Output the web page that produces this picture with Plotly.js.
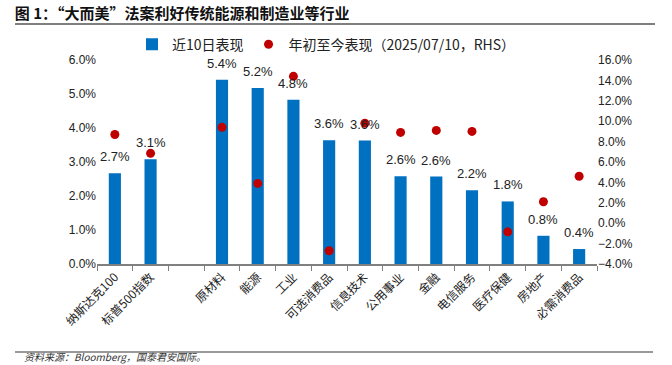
<!DOCTYPE html>
<html><head><meta charset="utf-8">
<script src="https://cdn.plot.ly/plotly-3.0.1.min.js"></script>
<style>html,body{margin:0;padding:0;background:#fff}#c{width:672px;height:365px}</style>
</head><body><div id="c"></div>
<script>
var categories = ["纳斯达克100","标普500指数"," ","原材料","能源","工业","可选消费品","信息技术","公用事业","金融","电信服务","医疗保健","房地产","必需消费品"];
var tenDay = [2.67, 3.08, null, 5.42, 5.18, 4.83, 3.64, 3.63, 2.58, 2.57, 2.17, 1.84, 0.83, 0.44];
var tenDayLabels = ["2.7%","3.1%","","5.4%","5.2%","4.8%","3.6%","3.6%","2.6%","2.6%","2.2%","1.8%","0.8%","0.4%"];
var ytd = [8.7, 6.85, null, 9.4, 3.9, 14.4, -2.7, 9.8, 8.9, 9.1, 9.0, -0.85, 2.1, 4.6];
var leftTicks = [0,1,2,3,4,5,6];
var rightTicks = [-4,-2,0,2,4,6,8,10,12,14,16];

var fontCJK = "Noto Sans CJK SC, Arial, sans-serif";
var traces = [
  {type:"bar", x:categories, y:tenDay, name:"近10日表现", marker:{color:"#0070C0"},
   width:0.34, hoverinfo:"none"},
  {type:"scatter", mode:"markers", x:categories, y:ytd, yaxis:"y2", name:"年初至今表现（2025/07/10，RHS）",
   marker:{color:"#C00000", size:9}, hoverinfo:"none", cliponaxis:false}
];
var labelAnns = [];
for (var i = 0; i < categories.length; i++) {
  if (tenDay[i] === null) continue;
  labelAnns.push({x:categories[i], y:tenDay[i], xref:"x", yref:"y", text:tenDayLabels[i], showarrow:false,
    yanchor:"bottom", yshift:7, font:{size:13, color:"#222", family:"Arial, sans-serif"}});
}
var layout = {
  width:672, height:365, margin:{l:97, r:75, t:60, b:101},
  paper_bgcolor:"#fff", plot_bgcolor:"#fff",
  font:{family:fontCJK, size:12, color:"#222"},
  showlegend:true,
  legend:{orientation:"h", x:0.07, y:1.075, xanchor:"left", yanchor:"middle", itemwidth:30,
    font:{size:14, family:fontCJK}, bgcolor:"rgba(0,0,0,0)", tracegroupgap:0},
  title:{text:"<b>图 1：“大而美”法案利好传统能源和制造业等行业</b>", x:0.022, xref:"container", xanchor:"left", y:0.962, yref:"container", yanchor:"middle",
    font:{size:15, family:fontCJK, color:"#111"}},
  xaxis:{type:"category", categoryorder:"array", categoryarray:categories, range:[-0.5,13.5],
    tickangle:-45, tickfont:{size:12, family:fontCJK, color:"#222"},
    showline:true, linecolor:"#808080", linewidth:1.5, ticks:"outside", tickson:"boundaries",
    ticklen:5, tickcolor:"#808080", showgrid:false, zeroline:false},
  yaxis:{range:[0,6], tickvals:leftTicks, ticktext:leftTicks.map(function(v){return v.toFixed(1)+"%";}),
    showgrid:false, zeroline:false, showline:false, ticks:"", tickfont:{size:12, family:"Arial, sans-serif", color:"#222"}},
  yaxis2:{range:[-4,16], overlaying:"y", side:"right", tickvals:rightTicks,
    ticktext:rightTicks.map(function(v){return (v<0?"−":"")+Math.abs(v).toFixed(1)+"%";}),
    showgrid:false, zeroline:false, showline:false, ticks:"", tickfont:{size:12, family:"Arial, sans-serif", color:"#222"}},
  shapes:[
    {type:"line", xref:"paper", yref:"paper", x0:-0.164, x1:1.116, y0:1.176, y1:1.176, line:{color:"#555", width:1.5}},
    {type:"line", xref:"paper", yref:"paper", x0:-0.164, x1:1.112, y0:-0.431, y1:-0.431, line:{color:"#777", width:1.5}}
  ],
  annotations:labelAnns.concat([
    {text:"<i>资料来源：Bloomberg，国泰君安国际。</i>", xref:"paper", yref:"paper", x:-0.15, y:-0.455, xanchor:"left", yanchor:"middle",
     showarrow:false, font:{size:10, family:fontCJK, color:"#333"}}
  ])
};
Plotly.newPlot("c", traces, layout, {staticPlot:true, displayModeBar:false});
</script></body></html>
